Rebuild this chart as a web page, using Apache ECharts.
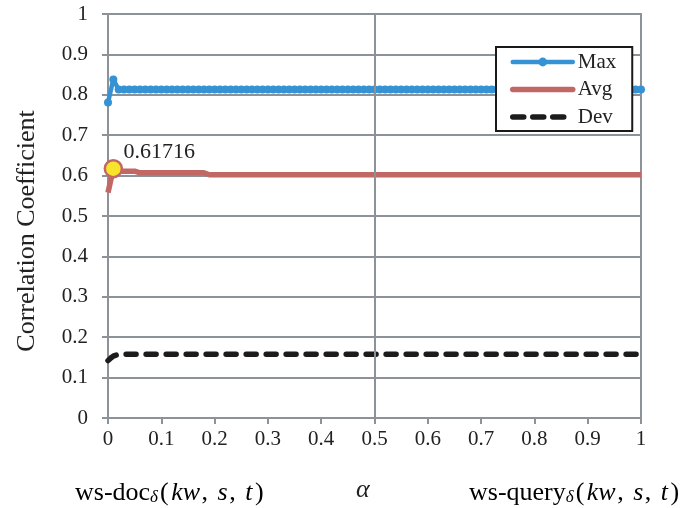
<!DOCTYPE html>
<html>
<head>
<meta charset="utf-8">
<script src="https://cdn.jsdelivr.net/npm/echarts@6/dist/echarts.min.js"></script>
<style>
  html, body { margin: 0; padding: 0; background: #fff; }
  #chart { width: 696px; height: 508px; }
</style>
</head>
<body>
<div id="chart"></div>
<script>
// alpha sweep, 0 to 1 in steps of 0.01
const alpha = [
  0, 0.01, 0.02, 0.03, 0.04, 0.05, 0.06, 0.07, 0.08, 0.09,
  0.1, 0.11, 0.12, 0.13, 0.14, 0.15, 0.16, 0.17, 0.18, 0.19,
  0.2, 0.21, 0.22, 0.23, 0.24, 0.25, 0.26, 0.27, 0.28, 0.29,
  0.3, 0.31, 0.32, 0.33, 0.34, 0.35, 0.36, 0.37, 0.38, 0.39,
  0.4, 0.41, 0.42, 0.43, 0.44, 0.45, 0.46, 0.47, 0.48, 0.49,
  0.5, 0.51, 0.52, 0.53, 0.54, 0.55, 0.56, 0.57, 0.58, 0.59,
  0.6, 0.61, 0.62, 0.63, 0.64, 0.65, 0.66, 0.67, 0.68, 0.69,
  0.7, 0.71, 0.72, 0.73, 0.74, 0.75, 0.76, 0.77, 0.78, 0.79,
  0.8, 0.81, 0.82, 0.83, 0.84, 0.85, 0.86, 0.87, 0.88, 0.89,
  0.9, 0.91, 0.92, 0.93, 0.94, 0.95, 0.96, 0.97, 0.98, 0.99,
  1
];

const maxVals = [
  0.781, 0.838, 0.813, 0.813, 0.813, 0.813, 0.813, 0.813, 0.813, 0.813,
  0.813, 0.813, 0.813, 0.813, 0.813, 0.813, 0.813, 0.813, 0.813, 0.813,
  0.813, 0.813, 0.813, 0.813, 0.813, 0.813, 0.813, 0.813, 0.813, 0.813,
  0.813, 0.813, 0.813, 0.813, 0.813, 0.813, 0.813, 0.813, 0.813, 0.813,
  0.813, 0.813, 0.813, 0.813, 0.813, 0.813, 0.813, 0.813, 0.813, 0.813,
  0.813, 0.813, 0.813, 0.813, 0.813, 0.813, 0.813, 0.813, 0.813, 0.813,
  0.813, 0.813, 0.813, 0.813, 0.813, 0.813, 0.813, 0.813, 0.813, 0.813,
  0.813, 0.813, 0.813, 0.813, 0.813, 0.813, 0.813, 0.813, 0.813, 0.813,
  0.813, 0.813, 0.813, 0.813, 0.813, 0.813, 0.813, 0.813, 0.813, 0.813,
  0.813, 0.813, 0.813, 0.813, 0.813, 0.813, 0.813, 0.813, 0.813, 0.813,
  0.813
];

const avgVals = [
  0.558, 0.61716, 0.611, 0.611, 0.611, 0.611, 0.607, 0.607, 0.607, 0.607,
  0.607, 0.607, 0.607, 0.607, 0.607, 0.607, 0.607, 0.607, 0.607, 0.602,
  0.602, 0.602, 0.602, 0.602, 0.602, 0.602, 0.602, 0.602, 0.602, 0.602,
  0.602, 0.602, 0.602, 0.602, 0.602, 0.602, 0.602, 0.602, 0.602, 0.602,
  0.602, 0.602, 0.602, 0.602, 0.602, 0.602, 0.602, 0.602, 0.602, 0.602,
  0.602, 0.602, 0.602, 0.602, 0.602, 0.602, 0.602, 0.602, 0.602, 0.602,
  0.602, 0.602, 0.602, 0.602, 0.602, 0.602, 0.602, 0.602, 0.602, 0.602,
  0.602, 0.602, 0.602, 0.602, 0.602, 0.602, 0.602, 0.602, 0.602, 0.602,
  0.602, 0.602, 0.602, 0.602, 0.602, 0.602, 0.602, 0.602, 0.602, 0.602,
  0.602, 0.602, 0.602, 0.602, 0.602, 0.602, 0.602, 0.602, 0.602, 0.602,
  0.602
];

const devVals = [
  0.142, 0.153, 0.157, 0.158, 0.158, 0.158, 0.158, 0.158, 0.158, 0.158,
  0.158, 0.158, 0.158, 0.158, 0.158, 0.158, 0.158, 0.158, 0.158, 0.158,
  0.158, 0.158, 0.158, 0.158, 0.158, 0.158, 0.158, 0.158, 0.158, 0.158,
  0.158, 0.158, 0.158, 0.158, 0.158, 0.158, 0.158, 0.158, 0.158, 0.158,
  0.158, 0.158, 0.158, 0.158, 0.158, 0.158, 0.158, 0.158, 0.158, 0.158,
  0.158, 0.158, 0.158, 0.158, 0.158, 0.158, 0.158, 0.158, 0.158, 0.158,
  0.158, 0.158, 0.158, 0.158, 0.158, 0.158, 0.158, 0.158, 0.158, 0.158,
  0.158, 0.158, 0.158, 0.158, 0.158, 0.158, 0.158, 0.158, 0.158, 0.158,
  0.158, 0.158, 0.158, 0.158, 0.158, 0.158, 0.158, 0.158, 0.158, 0.158,
  0.158, 0.158, 0.158, 0.158, 0.158, 0.158, 0.158, 0.158, 0.158, 0.158,
  0.158
];

// index of the highlighted Avg point
const peakIndex = 1;

const seriesNames = ['Max', 'Avg', 'Dev'];
const yAxisTitle = 'Correlation Coefficient';

const FONT = '"Liberation Serif", "DejaVu Serif", serif';
const GRID_GRAY = '#8c9298';
const TEXT = '#222222';
const BLUE = '#3592d4';
const RED = '#c26864';
const DARK = '#1c1c1c';
const DEV_DASH = [10, 10];

const pairs = (vals) => alpha.map((a, i) => [a, vals[i]]);

const avgData = pairs(avgVals).map((p, i) => {
  if (i !== peakIndex) return p;
  return {
    value: p,
    symbol: 'circle',
    symbolSize: 17,
    itemStyle: { color: '#f6e52c', borderColor: RED, borderWidth: 2.5 },
    label: {
      show: true,
      position: 'top',
      offset: [46, 9],
      formatter: (d) => String(d.value[1]),
      fontFamily: FONT,
      fontSize: 22,
      color: TEXT
    }
  };
});

// rich-text styles for the math captions under the x axis
const mathRich = {
  r: { fontFamily: FONT, fontSize: 26, color: TEXT, lineHeight: 30, verticalAlign: 'bottom' },
  p: { fontFamily: FONT, fontSize: 26, color: TEXT, lineHeight: 30, verticalAlign: 'bottom', padding: [0, 1, 0, 1] },
  i: { fontFamily: FONT, fontStyle: 'italic', fontSize: 26, color: TEXT, lineHeight: 30, verticalAlign: 'bottom', padding: [0, 1.5, 0, 1.5] },
  c: { fontFamily: FONT, fontSize: 26, color: TEXT, lineHeight: 30, verticalAlign: 'bottom', padding: [0, 8, 0, 0] },
  sub: { fontFamily: FONT, fontStyle: 'italic', fontSize: 17, color: TEXT, lineHeight: 30, padding: [12, 1, 0, 0], verticalAlign: 'bottom' }
};
const mathArgs = '{p|(}{i|kw}{c|,}{i|s}{c|,}{i|t}{p|)}';

const chart = echarts.init(document.getElementById('chart'), null, { renderer: 'canvas' });

chart.setOption({
  backgroundColor: '#ffffff',
  animation: false,
  grid: {
    left: 108, right: 55, top: 14, bottom: 90,
    show: true, borderColor: GRID_GRAY, borderWidth: 2, backgroundColor: 'transparent'
  },
  xAxis: {
    type: 'value', min: 0, max: 1, interval: 0.1,
    axisLine: { show: true, onZero: false, lineStyle: { color: GRID_GRAY, width: 2 } },
    axisTick: { show: true, inside: false, length: 6, lineStyle: { color: GRID_GRAY, width: 2 } },
    splitLine: { show: false },
    axisLabel: { margin: 11, fontFamily: FONT, fontSize: 21, color: TEXT }
  },
  yAxis: {
    type: 'value', min: 0, max: 1, interval: 0.1,
    name: yAxisTitle,
    nameLocation: 'middle',
    nameGap: 68,
    nameRotate: 90,
    nameTextStyle: { fontFamily: FONT, fontSize: 26, color: TEXT, padding: [0, 30, 0, 0] },
    axisLine: { show: true, lineStyle: { color: GRID_GRAY, width: 2 } },
    axisTick: { show: true, inside: false, length: 6, lineStyle: { color: GRID_GRAY, width: 2 } },
    splitLine: { show: true, lineStyle: { color: GRID_GRAY, width: 2 } },
    axisLabel: { margin: 20, fontFamily: FONT, fontSize: 21, color: TEXT }
  },
  legend: {
    orient: 'vertical',
    left: 496, top: 47,
    padding: [4.5, 16, 3.5, 14],
    itemGap: 6.5,
    itemWidth: 60,
    itemHeight: 11,
    backgroundColor: '#ffffff',
    borderColor: '#1a1a1a',
    borderWidth: 2,
    borderRadius: 0,
    textStyle: { fontFamily: FONT, fontSize: 21, color: TEXT, lineHeight: 21 },
    data: [
      { name: seriesNames[0], lineStyle: { width: 4.5, cap: 'round' } },
      { name: seriesNames[1], itemStyle: { opacity: 0 }, lineStyle: { width: 5.5, cap: 'round' } },
      { name: seriesNames[2], itemStyle: { opacity: 0 }, lineStyle: { width: 5.5, type: [11, 9], cap: 'round' } }
    ]
  },
  series: [
    {
      name: seriesNames[0],
      type: 'line',
      data: pairs(maxVals),
      symbol: 'circle',
      symbolSize: 8,
      showAllSymbol: true,
      itemStyle: { color: BLUE },
      lineStyle: { color: BLUE, width: 4.5 },
      emphasis: { disabled: true },
      z: 3,
      markLine: {
        silent: true,
        symbol: 'none',
        label: { show: false },
        lineStyle: { color: GRID_GRAY, type: 'solid', width: 2 },
        data: [{ xAxis: 0.5 }]
      }
    },
    {
      name: seriesNames[1],
      type: 'line',
      data: avgData,
      symbol: 'none',
      itemStyle: { color: RED },
      lineStyle: { color: RED, width: 5.5 },
      emphasis: { disabled: true },
      z: 3
    },
    {
      name: seriesNames[2],
      type: 'line',
      data: pairs(devVals),
      symbol: 'none',
      smooth: 0.3,
      itemStyle: { color: DARK },
      lineStyle: { color: DARK, width: 5.5, type: DEV_DASH, cap: 'round' },
      emphasis: { disabled: true },
      z: 3
    }
  ],
  graphic: [
    {
      type: 'text', left: 75, top: 477,
      style: { text: '{r|ws-doc}{sub|δ}' + mathArgs, rich: mathRich }
    },
    {
      type: 'text', left: 356, top: 477,
      style: { text: 'α', fontFamily: FONT, fontStyle: 'italic', fontSize: 26, fill: TEXT }
    },
    {
      type: 'text', left: 469, top: 477,
      style: { text: '{r|ws-query}{sub|δ}' + mathArgs, rich: mathRich }
    }
  ]
});
</script>
</body>
</html>
